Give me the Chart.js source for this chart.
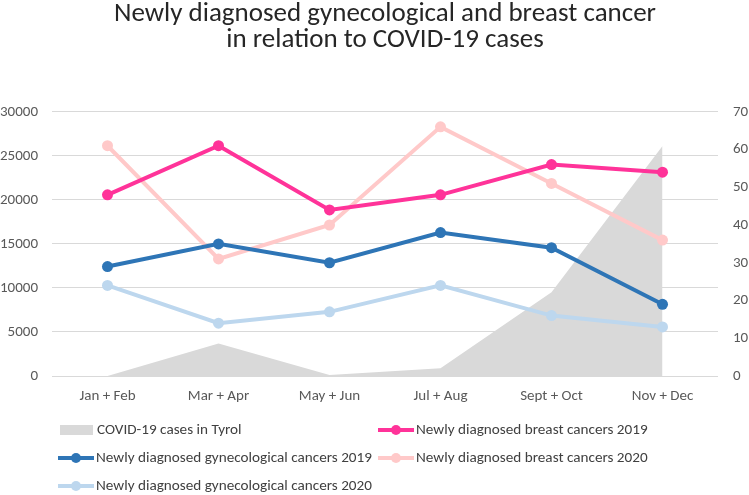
<!DOCTYPE html>
<html><head><meta charset="utf-8">
<script src="https://cdn.jsdelivr.net/npm/chart.js@4"></script>
<style>html,body{margin:0;padding:0;background:#fff}#wrap{width:749px;height:495px;position:relative}</style>
</head><body><div id="wrap"><canvas id="c" width="749" height="495"></canvas></div>
<script>
const categories = ['Jan + Feb', 'Mar + Apr', 'May + Jun', 'Jul + Aug', 'Sept + Oct', 'Nov + Dec'];
const covidCases = [0, 3680, 100, 870, 9500, 26100];
const breast2019 = [48, 61, 44, 48, 56, 54];
const gyn2019 = [29, 35, 30, 38, 34, 19];
const breast2020 = [61, 31, 40, 66, 51, 36];
const gyn2020 = [24, 14, 17, 24, 16, 13];
const titleLines = ['Newly diagnosed gynecological and breast cancer', 'in relation to COVID-19 cases'];
const seriesLabels = ['COVID-19 cases in Tyrol', 'Newly diagnosed breast cancers 2019', 'Newly diagnosed gynecological cancers 2019', 'Newly diagnosed breast cancers 2020', 'Newly diagnosed gynecological cancers 2020'];

const FONT = 'Carlito, "Liberation Sans", sans-serif';
const C_AREA = '#d9d9d9', C_B19 = '#ff3399', C_G19 = '#2e75b6', C_B20 = '#ffc9c9', C_G20 = '#bdd7ee';

function lineDs(label, data, color) {
  return { type: 'line', label, data, yAxisID: 'y1', borderColor: color, backgroundColor: color,
    borderWidth: 4, pointRadius: 5.5, pointBackgroundColor: color, pointBorderWidth: 0, tension: 0, fill: false };
}

const legendPlugin = {
  id: 'customLegend',
  afterDraw(chart) {
    const ctx = chart.ctx;
    const ds = chart.data.datasets;
    const slots = [[60, 430], [378, 430], [58, 458], [378, 458], [58, 486]];
    ctx.save();
    ctx.font = '15.2px ' + FONT;
    ctx.textBaseline = 'middle';
    ds.forEach((d, i) => {
      const [x, y] = slots[i];
      if (i === 0) {
        ctx.fillStyle = C_AREA;
        ctx.fillRect(x, y - 5, 33, 10);
        ctx.fillStyle = '#404040';
        ctx.fillText(d.label, x + 37, y);
      } else {
        ctx.strokeStyle = d.borderColor; ctx.lineWidth = 4;
        ctx.beginPath(); ctx.moveTo(x, y); ctx.lineTo(x + 36, y); ctx.stroke();
        ctx.fillStyle = d.borderColor;
        ctx.beginPath(); ctx.arc(x + 18, y, 5, 0, Math.PI * 2); ctx.fill();
        ctx.fillStyle = '#404040';
        ctx.fillText(d.label, x + 38, y);
      }
    });
    ctx.restore();
  }
};

new Chart(document.getElementById('c'), {
  data: {
    labels: categories,
    datasets: [
      { type: 'line', label: seriesLabels[0], data: covidCases, yAxisID: 'y', borderWidth: 0, pointRadius: 0,
        backgroundColor: C_AREA, borderColor: C_AREA, fill: 'origin', tension: 0 },
      lineDs(seriesLabels[1], breast2019, C_B19),
      lineDs(seriesLabels[2], gyn2019, C_G19),
      lineDs(seriesLabels[3], breast2020, C_B20),
      lineDs(seriesLabels[4], gyn2020, C_G20)
    ]
  },
  options: {
    responsive: false,
    animation: false,
    devicePixelRatio: 1,
    layout: { padding: { top: 0, bottom: 79, left: 0, right: 0 } },
    plugins: {
      legend: { display: false },
      tooltip: { enabled: false },
      filler: { drawTime: 'beforeDatasetsDraw' },
      title: { display: true, fullSize: false, text: titleLines, color: '#262626',
        font: { family: FONT, size: 27, weight: 'normal', lineHeight: 0.94 }, padding: { top: 2, bottom: 59 } }
    },
    scales: {
      x: { offset: true, grid: { display: false, drawTicks: false }, border: { display: false },
        ticks: { color: '#595959', font: { family: FONT, size: 15 }, padding: 11, maxRotation: 0 },
        afterFit(s) { s.height = 40; } },
      y: { position: 'left', min: 0, max: 30000, border: { display: false },
        grid: { color: '#d9d9d9', lineWidth: 1, drawTicks: false },
        ticks: { stepSize: 5000, color: '#595959', font: { family: FONT, size: 15 }, padding: 14,
          callback: v => String(v) },
        afterFit(s) { s.width = 52; } },
      y1: { position: 'right', min: 0, max: 70, border: { display: false },
        grid: { display: false, drawTicks: false },
        ticks: { stepSize: 10, color: '#595959', font: { family: FONT, size: 15 }, padding: 15,
          callback: v => String(v) },
        afterFit(s) { s.width = 31; } }
    }
  },
  plugins: [legendPlugin]
});
</script></body></html>
